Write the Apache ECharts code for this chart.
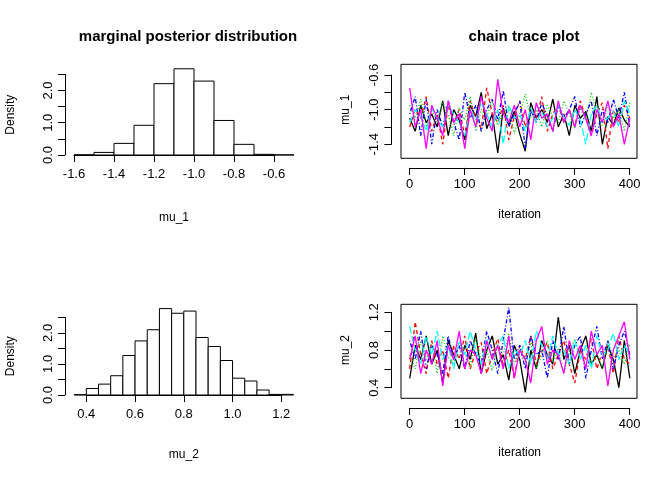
<!DOCTYPE html>
<html>
<head>
<meta charset="utf-8">
<script src="https://cdn.jsdelivr.net/npm/echarts@6/dist/echarts.min.js"></script>
<style>html,body{margin:0;padding:0;background:#fff}#c{width:672px;height:480px}</style>
</head>
<body>
<div id="c"></div>
<script>
// histogram bins: [from, to, density]
const mu1Bins = [
  [-1.6, -1.5, 0.005], [-1.5, -1.4, 0.08], [-1.4, -1.3, 0.36], [-1.3, -1.2, 0.92],
  [-1.2, -1.1, 2.21], [-1.1, -1.0, 2.67], [-1.0, -0.9, 2.29], [-0.9, -0.8, 1.07],
  [-0.8, -0.7, 0.33], [-0.7, -0.6, 0.02], [-0.6, -0.5, 0.005]
];
const mu2Bins = [
  [0.35, 0.4, 0.01], [0.4, 0.45, 0.21], [0.45, 0.5, 0.35], [0.5, 0.55, 0.62],
  [0.55, 0.6, 1.27], [0.6, 0.65, 1.74], [0.65, 0.7, 2.10], [0.7, 0.75, 2.78],
  [0.75, 0.8, 2.63], [0.8, 0.85, 2.70], [0.85, 0.9, 1.85], [0.9, 0.95, 1.56],
  [0.95, 1.0, 1.11], [1.0, 1.05, 0.54], [1.05, 1.1, 0.45], [1.1, 1.15, 0.16],
  [1.15, 1.2, 0.02], [1.2, 1.25, 0.02]
];

// chain traces, one value every 10 iterations
const iterations = [0,10,20,30,40,50,60,70,80,90,100,110,120,130,140,150,160,170,180,190,200,
  210,220,230,240,250,260,270,280,290,300,310,320,330,340,350,360,370,380,390,400];
const mu1Chains = [
  [-1.10,-1.25,-0.95,-1.15,-1.05,-1.20,-0.90,-1.30,-1.00,-1.12,-1.35,-0.95,-1.08,-0.80,-1.22,-1.05,-1.50,-0.98,-1.18,-1.02,-1.28,-1.48,-0.92,-1.10,-1.00,-1.15,-0.88,-1.20,-1.05,-1.30,-0.95,-1.10,-1.02,-1.25,-0.85,-1.40,-1.08,-1.18,-0.98,-1.12,-1.20],
  [-1.20,-1.00,-1.10,-0.85,-1.25,-1.05,-1.40,-0.95,-1.15,-1.00,-1.30,-0.90,-1.10,-1.22,-0.75,-1.05,-1.15,-0.95,-1.35,-1.08,-0.90,-1.20,-1.00,-1.10,-0.85,-1.25,-1.05,-0.95,-1.15,-1.00,-1.20,-0.90,-1.10,-1.30,-1.05,-0.92,-1.45,-1.00,-1.15,-0.95,-1.10],
  [-0.95,-1.10,-0.88,-1.20,-1.00,-1.15,-0.92,-1.05,-1.30,-0.98,-1.12,-0.85,-1.25,-1.00,-1.08,-0.90,-1.18,-1.02,-0.95,-1.28,-1.05,-0.82,-1.10,-1.00,-1.20,-0.95,-1.08,-1.15,-0.90,-1.05,-1.22,-0.98,-1.12,-0.80,-1.05,-1.18,-0.95,-1.10,-1.00,-1.25,-0.92],
  [-1.05,-0.85,-1.30,-0.88,-1.40,-1.00,-1.20,-0.90,-1.15,-1.35,-0.80,-1.10,-0.95,-1.25,-1.00,-0.88,-1.12,-0.78,-1.20,-1.05,-0.90,-1.45,-1.00,-1.15,-0.92,-1.08,-1.25,-0.95,-1.10,-1.00,-0.85,-1.20,-1.05,-0.90,-1.30,-1.00,-1.15,-0.88,-1.10,-0.80,-1.20],
  [-1.15,-1.00,-1.08,-1.25,-0.98,-1.10,-1.20,-0.95,-1.05,-1.15,-1.30,-1.00,-1.12,-0.92,-1.05,-1.20,-1.00,-1.40,-0.95,-1.10,-1.05,-1.25,-0.98,-1.15,-1.02,-1.20,-1.10,-0.95,-1.08,-1.18,-1.00,-1.12,-1.40,-1.05,-0.95,-1.15,-1.10,-1.02,-1.20,-0.90,-1.05],
  [-0.75,-1.20,-1.00,-1.45,-0.95,-1.10,-1.30,-0.90,-1.15,-1.05,-1.45,-1.00,-1.20,-0.85,-1.10,-1.25,-0.65,-1.05,-1.15,-0.95,-1.20,-1.00,-1.35,-0.92,-1.10,-1.05,-1.25,-0.90,-1.15,-1.00,-1.20,-0.95,-1.10,-1.30,-1.00,-1.15,-0.90,-1.20,-1.05,-1.40,-1.10]
];
const mu2Chains = [
  [0.50,0.85,0.70,0.95,0.65,0.80,0.45,0.90,0.75,0.60,0.85,0.70,0.98,0.55,0.80,0.95,0.65,0.75,0.48,0.85,0.70,0.35,0.80,0.60,0.90,0.75,0.65,1.15,0.70,0.85,0.55,0.80,0.95,0.65,0.75,0.60,0.85,0.70,0.40,0.90,0.50],
  [0.60,1.10,0.75,0.55,0.90,0.65,0.80,0.50,0.85,0.70,0.95,0.60,0.78,0.88,0.55,0.75,0.92,0.62,0.80,0.50,0.85,0.70,0.95,0.65,0.78,0.88,0.60,0.75,0.90,0.65,0.45,0.80,0.70,0.92,0.60,0.78,0.85,0.55,0.95,0.70,0.65],
  [0.75,0.60,0.90,0.70,0.85,0.55,0.95,0.72,0.65,0.88,0.78,0.62,0.92,0.70,0.80,0.58,0.85,0.75,0.98,0.65,0.80,0.70,0.88,0.60,0.75,0.90,0.68,0.82,0.55,0.78,0.92,0.70,0.85,0.65,0.75,0.60,0.90,0.72,0.80,0.65,0.85],
  [0.90,0.70,1.00,0.60,0.85,0.75,0.55,0.95,0.70,0.85,0.60,0.90,0.75,0.65,1.00,0.80,0.55,0.90,1.25,0.70,0.85,0.60,0.95,0.75,0.80,0.50,0.90,0.70,1.05,0.65,0.85,0.95,0.50,0.80,1.05,0.70,0.90,0.60,0.85,1.00,0.75],
  [1.05,0.80,0.65,0.95,0.75,1.00,0.70,0.85,0.60,0.90,0.75,1.00,0.80,0.65,0.92,0.70,0.85,0.95,0.60,0.80,0.75,0.90,0.65,1.00,0.85,0.70,0.95,0.75,0.80,0.65,0.90,0.70,0.85,0.60,0.95,0.75,0.80,0.98,0.70,0.85,0.75],
  [0.70,0.95,0.55,0.80,0.65,0.90,0.42,0.85,0.70,1.00,0.60,0.80,0.75,0.55,0.90,0.70,0.85,0.60,0.95,0.50,0.80,0.70,0.45,0.90,1.05,0.65,0.80,0.75,0.55,0.90,0.70,0.85,0.60,1.00,0.75,0.85,0.42,0.80,0.95,1.10,0.70]
];
const chainColors = ['#000000', '#ff0000', '#00cd00', '#0000ff', '#00ffff', '#ff00ff'];
const chainDash = ['solid', [4, 3], [1, 2], [1, 2, 4, 2], [7, 3], 'solid'];

const mu1Ticks = [-1.6, -1.4, -1.2, -1.0, -0.8, -0.6];
const mu2Ticks = [0.4, 0.6, 0.8, 1.0, 1.2];
const densTicks = [0, 0.5, 1, 1.5, 2, 2.5];
const densLabels = [0, 1, 2];
const iterTicks = [0, 100, 200, 300, 400];
const trace1Ticks = [-1.4, -1.2, -1.0, -0.8, -0.6];
const trace1Labels = [-1.4, -1.0, -0.6];
const trace2Ticks = [0.4, 0.6, 0.8, 1.0, 1.2];
const trace2Labels = [0.4, 0.8, 1.2];

const FONT = 'Liberation Sans, Arial, sans-serif';
const txt = { color: '#000', fontFamily: FONT, fontSize: 12 };
const tickTxt = { color: '#000', fontFamily: FONT, fontSize: 13 };
const line = { show: true, lineStyle: { color: '#000', width: 1 } };
const tick = (vals) => ({ show: true, length: 7, lineStyle: { color: '#000' }, customValues: vals });
const lab = (vals, dec, extra) => Object.assign({ show: true, customValues: vals, margin: 10,
  formatter: v => Number(v).toFixed(dec), ...tickTxt }, extra || {});
const hidden = { show: false };

const chart = echarts.init(document.getElementById('c'), null, { renderer: 'canvas' });

const grids = [
  // 0 hist mu_1, 1 hist mu_2
  { left: 74, top: 74.3, width: 200, height: 80.7 },
  { left: 86.3, top: 317.3, width: 195, height: 77.7 },
  // 2,3 trace boxes
  { left: 401, top: 64.3, width: 236, height: 94, show: true, borderColor: '#000', borderWidth: 1 },
  { left: 401, top: 304.3, width: 236, height: 94, show: true, borderColor: '#000', borderWidth: 1 },
  // 4,5 trace x axes ; 6,7 trace y axes
  { left: 409.7, top: 166.9, width: 220, height: 1 },
  { left: 409.7, top: 406.9, width: 220, height: 1 },
  { left: 391.4, top: 75, width: 1, height: 69.3 },
  { left: 391.4, top: 312.3, width: 1, height: 75.4 }
];

const xAxes = [
  { gridIndex: 0, type: 'value', min: -1.6, max: -0.6, offset: 3.3, axisLine: line, axisTick: tick(mu1Ticks),
    axisLabel: lab(mu1Ticks, 1), splitLine: hidden, name: 'mu_1', nameLocation: 'middle', nameGap: 53, nameTextStyle: txt },
  { gridIndex: 1, type: 'value', min: 0.4, max: 1.2, offset: 3.3, axisLine: line, axisTick: tick(mu2Ticks),
    axisLabel: lab(mu2Ticks, 1), splitLine: hidden, name: 'mu_2', nameLocation: 'middle', nameGap: 50, nameTextStyle: txt },
  { gridIndex: 2, type: 'value', min: -15.8, max: 413, show: false },
  { gridIndex: 3, type: 'value', min: -15.8, max: 413, show: false },
  { gridIndex: 4, type: 'value', min: 0, max: 400, axisLine: line, axisTick: tick(iterTicks),
    axisLabel: lab(iterTicks, 0), splitLine: hidden, name: 'iteration', nameLocation: 'middle', nameGap: 41, nameTextStyle: txt },
  { gridIndex: 5, type: 'value', min: 0, max: 400, axisLine: line, axisTick: tick(iterTicks),
    axisLabel: lab(iterTicks, 0), splitLine: hidden, name: 'iteration', nameLocation: 'middle', nameGap: 39, nameTextStyle: txt },
  { gridIndex: 6, type: 'value', show: false },
  { gridIndex: 7, type: 'value', show: false }
];

const yAxes = [
  { gridIndex: 0, type: 'value', min: 0, max: 2.5, offset: 9, axisLine: line, axisTick: tick(densTicks),
    axisLabel: lab(densLabels, 1, { rotate: 90 }), splitLine: hidden, name: 'Density', nameLocation: 'middle', nameGap: 48, nameTextStyle: txt },
  { gridIndex: 1, type: 'value', min: 0, max: 2.5, offset: 21.3, axisLine: line, axisTick: tick(densTicks),
    axisLabel: lab(densLabels, 1, { rotate: 90 }), splitLine: hidden, name: 'Density', nameLocation: 'middle', nameGap: 48, nameTextStyle: txt },
  { gridIndex: 2, type: 'value', min: -1.562, max: -0.477, show: false },
  { gridIndex: 3, type: 'value', min: 0.2875, max: 1.285, show: false },
  { gridIndex: 4, type: 'value', show: false },
  { gridIndex: 5, type: 'value', show: false },
  { gridIndex: 6, type: 'value', min: -1.4, max: -0.6, axisLine: line, axisTick: tick(trace1Ticks),
    axisLabel: lab(trace1Labels, 1, { rotate: 90 }), splitLine: hidden, name: 'mu_1', nameLocation: 'middle', nameGap: 40, nameTextStyle: txt },
  { gridIndex: 7, type: 'value', min: 0.4, max: 1.2, axisLine: line, axisTick: tick(trace2Ticks),
    axisLabel: lab(trace2Labels, 1, { rotate: 90 }), splitLine: hidden, name: 'mu_2', nameLocation: 'middle', nameGap: 40, nameTextStyle: txt }
];

function histSeries(bins, idx) {
  return {
    type: 'custom', xAxisIndex: idx, yAxisIndex: idx, clip: false, silent: true,
    data: bins,
    renderItem: (params, api) => {
      const p0 = api.coord([api.value(0), api.value(2)]);
      const p1 = api.coord([api.value(1), 0]);
      return { type: 'rect', shape: { x: p0[0], y: p0[1], width: p1[0] - p0[0], height: p1[1] - p0[1] },
        style: { fill: '#fff', stroke: '#000', lineWidth: 1 } };
    }
  };
}

function traceSeries(chains, idx) {
  return chains.map((vals, k) => ({
    type: 'line', xAxisIndex: idx, yAxisIndex: idx, showSymbol: false, silent: true, animation: false,
    data: vals.map((v, i) => [iterations[i], v]),
    lineStyle: { color: chainColors[k], width: 1.3, type: chainDash[k] }
  }));
}

chart.setOption({
  animation: false,
  backgroundColor: '#fff',
  title: [
    { text: 'marginal posterior distribution', left: 183, top: 24, textAlign: 'center',
      textStyle: { fontFamily: FONT, fontSize: 15, fontWeight: 'bold', color: '#000' } },
    { text: 'chain trace plot', left: 519, top: 24, textAlign: 'center',
      textStyle: { fontFamily: FONT, fontSize: 15, fontWeight: 'bold', color: '#000' } }
  ],
  grid: grids,
  xAxis: xAxes,
  yAxis: yAxes,
  series: [
    histSeries(mu1Bins, 0),
    histSeries(mu2Bins, 1),
    ...traceSeries(mu1Chains, 2),
    ...traceSeries(mu2Chains, 3)
  ]
});
</script>
</body>
</html>
